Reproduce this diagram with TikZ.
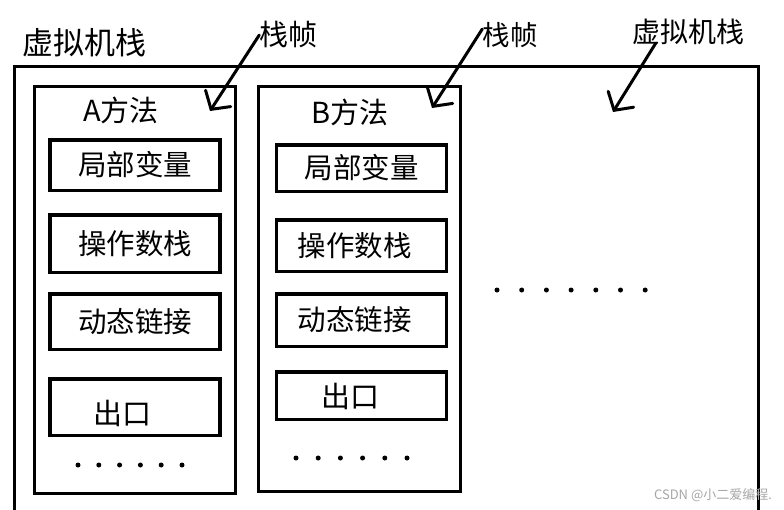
\documentclass[tikz,border=0pt]{standalone}
\usepackage{fontspec}
\setmainfont{Noto Sans CJK SC}
\usetikzlibrary{arrows.meta}

\tikzset{
  stackframe/.style={draw, line width=3pt, inner sep=0pt},
  slot/.style={draw, line width=3.5pt, minimum width=170pt, inner sep=0pt,
    font=\fontsize{28.5}{32}\selectfont},
  tag/.style={inner sep=0pt, font=\fontsize{29}{32}\selectfont},
  pointer/.style={line width=3pt, line cap=round,
    -{Straight Barb[length=13pt,width=30pt,line cap=round]}},
}

\begin{document}
\begin{tikzpicture}[x=1pt,y=-1pt]
    \useasboundingbox (0,0) rectangle (784,509);

    % Labels
    \node[tag, font=\fontsize{31}{34}\selectfont] (title) at (84.5,43) {虚拟机栈};
    \node[tag] (tagA) at (288.5,35) {栈帧};
    \node[tag, font=\fontsize{27.5}{30}\selectfont] (tagB) at (510,35) {栈帧};
    \node[tag, font=\fontsize{28}{30}\selectfont] (tagVM) at (688,32) {虚拟机栈};

    % Outer stack and frames
    \node[stackframe, minimum width=744pt, minimum height=463pt] (vmstack) at (386.5,298) {};
    \node[stackframe, minimum width=201pt, minimum height=407pt] (frameA) at (135,290) {};
    \node[stackframe, minimum width=202pt, minimum height=405pt] (frameB) at (359.5,289) {};

    \node[tag] (nameA) at (121,110) {A方法};
    \node[tag] (nameB) at (350,112) {B方法};

    % Frame A
    \node[slot, minimum height=50.5pt] (a1) at (135,165) {局部变量};
    \node[slot, minimum height=57.5pt] (a2) at (135,243.5) {操作数栈};
    \node[slot, minimum height=55.5pt] (a3) at (135,321.5) {动态链接};
    \node[slot, minimum height=56.5pt, label={[tag, xshift=-13pt, yshift=-6pt]center:出口}] (a4) at (135,407) {};

    % Frame B
    \node[slot, minimum height=46.5pt] (b1) at (361.5,168) {局部变量};
    \node[slot, minimum height=51.5pt] (b2) at (361.5,245.5) {\hspace{-14pt}操作数栈};
    \node[slot, minimum height=52.5pt] (b3) at (361.5,320) {\hspace{-14pt}动态链接};
    \node[slot, minimum height=47.5pt, label={[tag, xshift=-11pt, yshift=-1pt]center:出口}] (b4) at (361.5,395.5) {};

    % Dots
    \foreach \i in {0,...,5} \fill (78+20.8*\i,465) circle (2.5);
    \foreach \i in {0,...,5} \fill (296+22.2*\i,458) circle (2.5);
    \foreach \i in {0,...,6} \fill (497+24.7*\i,290) circle (2.5);

    % Arrows
    \coordinate (tipA) at (210,111);
    \coordinate (tipB) at (432,108);
    \coordinate (tipVM) at (613,112);
    \draw[pointer] (tagA.west) -- (tipA);
    \draw[pointer] ([yshift=6pt]tagB.west) -- (tipB);
    \draw[pointer] ([xshift=24pt,yshift=2pt]tagVM.south west) -- (tipVM);

    % Watermark
    \node[text=gray!70, inner sep=0pt, font=\fontsize{13}{15}\selectfont] (mark) at (713,495) {CSDN @小二爱编程.};
\end{tikzpicture}
\end{document}
